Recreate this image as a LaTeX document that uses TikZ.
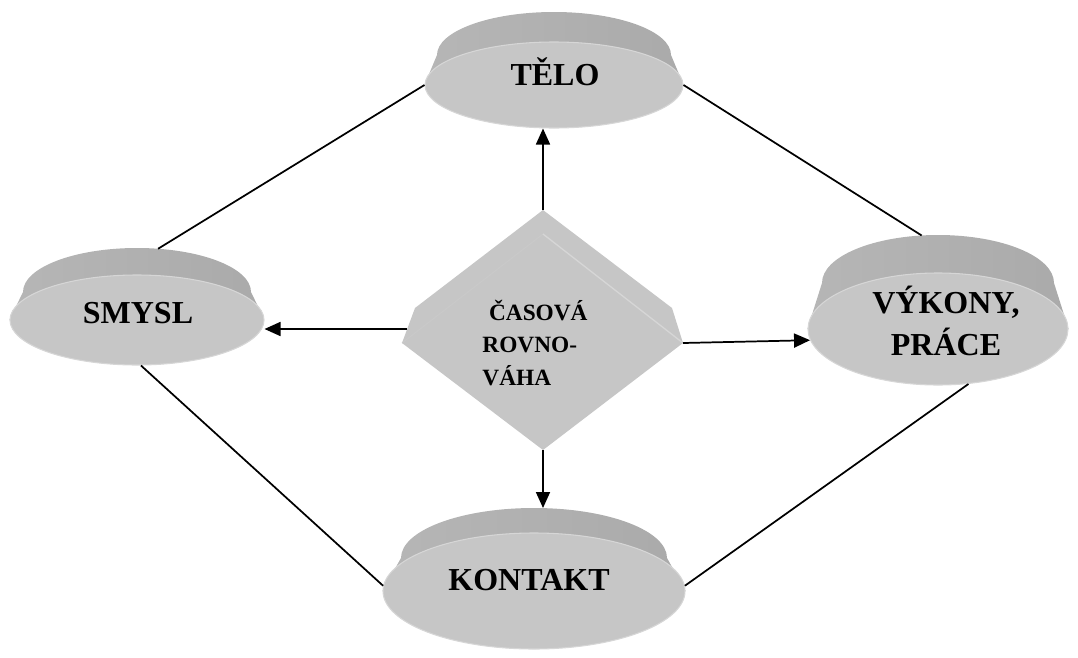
\documentclass[tikz,border=0pt]{standalone}
\usepackage{fontspec}
\setmainfont{Liberation Serif}
\usetikzlibrary{arrows.meta,shapes.geometric,backgrounds,calc,positioning}
\definecolor{faceclr}{RGB}{198,198,198}
\definecolor{rimlight}{RGB}{182,182,182}
\definecolor{rimdark}{RGB}{155,155,155}
\definecolor{rimmid}{RGB}{170,170,170}
\definecolor{edgeclr}{RGB}{214,214,214}
\tikzstyle{disc back}=[ellipse, inner sep=0pt, outer sep=0pt]
\tikzstyle{disc}=[ellipse, inner sep=0pt, fill=faceclr, draw=edgeclr, line width=0.8pt]
\tikzstyle{disc rim}=[left color=rimlight, middle color=rimdark, right color=rimmid]
\tikzstyle{disc text}=[font=\bfseries\fontsize{24}{31.5}\selectfont, align=center, anchor=base, inner sep=0pt]
\tikzstyle{diamond text}=[font=\bfseries\fontsize{17.5}{24.4}\selectfont, align=left, inner sep=0pt]
\tikzstyle{link}=[line width=1.3pt, black]
\tikzstyle{flow}=[link, -{Triangle[length=12pt,width=10.5pt]}]

\begin{document}
\begin{tikzpicture}[x=0.75pt, y=-0.75pt]
\useasboundingbox (0,0) rectangle (1078,657);

	% Discs: back outline and front face
    \node[disc back, minimum width=175.5pt, minimum height=64.5pt] (telo-b) at (554,55) {};
    \node[disc, minimum width=193.5pt, minimum height=64.5pt] (telo) at (554,85) {};
    \node[disc back, minimum width=171pt, minimum height=66pt] (smysl-b) at (137,292) {};
    \node[disc, minimum width=190.5pt, minimum height=67.5pt] (smysl) at (137,320) {};
    \node[disc back, minimum width=174pt, minimum height=72pt] (vykony-b) at (938,283) {};
    \node[disc, minimum width=195pt, minimum height=84pt] (vykony) at (938,329) {};
    \node[disc back, minimum width=199.5pt, minimum height=75pt] (kontakt-b) at (534,558) {};
    \node[disc, minimum width=226.5pt, minimum height=87pt] (kontakt) at (534,591) {};

    \begin{pgfonlayer}{background}
    \foreach \name/\rx/\ry in {telo/117/43, smysl/114/44, vykony/116/48, kontakt/133/50}
        \shade[disc rim] (\name.west) -- (\name-b.west) arc[start angle=180, end angle=360, x radius=\rx, y radius=\ry] -- (\name.east) -- cycle;
    \end{pgfonlayer}

    \node[disc text] (telo-t) at (555,85) {TĚLO};
    \node[disc text] (smysl-t) at (138,323) {SMYSL};
    \node[disc text, anchor=center] (vykony-t) at (946,321) {VÝKONY,\\PRÁCE};
    \node[disc text] (kontakt-t) at (529,590) {KONTAKT};

	% Centre diamond
    \coordinate (cas-n) at (543,210);
    \coordinate (cas-nw) at (415,308);
    \coordinate (cas-w) at (402,343);
    \coordinate (cas-s) at (543,450);
    \coordinate (cas-e) at (683,343);
    \coordinate (cas-ne) at (672,308);
    \coordinate (cas-top) at (543,234);
    \coordinate (cas-wa) at ($(cas-nw)!0.6!(cas-w)$);
    \fill[faceclr] (cas-n) -- (cas-ne) -- (cas-e) -- (cas-s) -- (cas-w) -- (cas-nw) -- cycle;
    \draw[black!21, line width=0.8pt] (cas-w) -- (cas-top);
    \draw[edgeclr, line width=1pt] (cas-top) -- (cas-e);
    \node[diamond text] (cas) at (535,343) {\hspace*{5pt}ČASOVÁ\\ROVNO-\\VÁHA};

	% Diamond -> discs
    \draw[flow] (cas-n) -- (cas-n |- telo.south);
    \draw[flow] (cas-wa) -- (cas-wa -| smysl.east);
    \draw[flow] (cas-e) -- (vykony.185);
    \draw[flow] (cas-s) -- (cas-s |- kontakt-b.north);

	% Ring
    \draw[link] (telo.west) -- (smysl-b.64);
    \draw[link] (telo.east) -- (vykony-b.109);
    \draw[link] (smysl.-85) -- (kontakt.178);
    \draw[link] (vykony.-61) -- (kontakt.2);

\end{tikzpicture}
\end{document}
